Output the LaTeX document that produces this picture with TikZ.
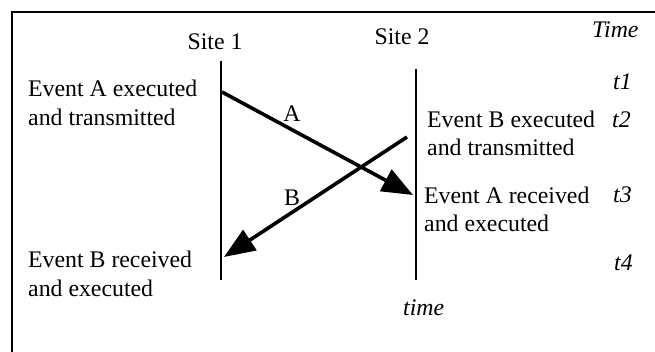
\documentclass[tikz,border=0pt]{standalone}
\usepackage{fontspec}
\setmainfont{Liberation Serif}
\usetikzlibrary{arrows.meta}
\begin{document}
\begin{tikzpicture}[x=1pt,y=-1pt,
  txt/.style={inner sep=0pt,anchor=base west,align=left,font=\fontsize{23.8}{28.5}\selectfont},
  itxt/.style={inner sep=0pt,anchor=base west,font=\fontsize{23.8}{28.5}\selectfont\itshape},
  ctxt/.style={inner sep=0pt,anchor=base,font=\fontsize{23.8}{28.5}\selectfont},
  siteline/.style={line width=2pt},
  msg/.style={line width=3.6pt,-{Triangle[length=31pt,width=24pt]}},
  frameline/.style={line width=2pt}]
\useasboundingbox (0,0) rectangle (655,352);
% frame (top and left edges)
\coordinate (fl) at (12,352);
\coordinate (fc) at (12,12);
\coordinate (fr) at (655,12);
\draw[frameline] (fl) -- (fc) -- (fr);
% site headers
\node[ctxt] (s1) at (215,50) {Site 1};
\node[ctxt] (s2) at (402,45) {Site 2};
\node[itxt] (time) at (592,38) {Time};
% site lines
\coordinate (s1top) at (221,61);
\coordinate (s1bot) at (221,280);
\coordinate (s2top) at (416,69);
\coordinate (s2bot) at (416,280);
\draw[siteline] (s1top) -- (s1bot);
\draw[siteline] (s2top) -- (s2bot);
% messages
\coordinate (aS) at (222,92);
\coordinate (aE) at (413,195);
\coordinate (bS) at (407,137);
\coordinate (bE) at (224,257);
\draw[msg] (aS) -- (aE);
\draw[msg] (bS) -- (bE);
\node[ctxt] (la) at (292,122) {A};
\node[ctxt] (lb) at (292,206) {B};
% event texts (base anchor = last line)
\node[txt] (ea) at (28,125.5) {Event A executed\\and transmitted};
\node[txt] (eb) at (427,156) {Event B executed\\and transmitted};
\node[txt] (ar) at (424,232) {Event A received\\and executed};
\node[txt] (br) at (28,296) {Event B received\\and executed};
% time marks
\node[itxt] (t1) at (613,90) {t1};
\node[itxt] (t2) at (612,128) {t2};
\node[itxt] (t3) at (613,203) {t3};
\node[itxt] (t4) at (614,271) {t4};
\node[itxt] (tl) at (403,315) {time};
\end{tikzpicture}
\end{document}
